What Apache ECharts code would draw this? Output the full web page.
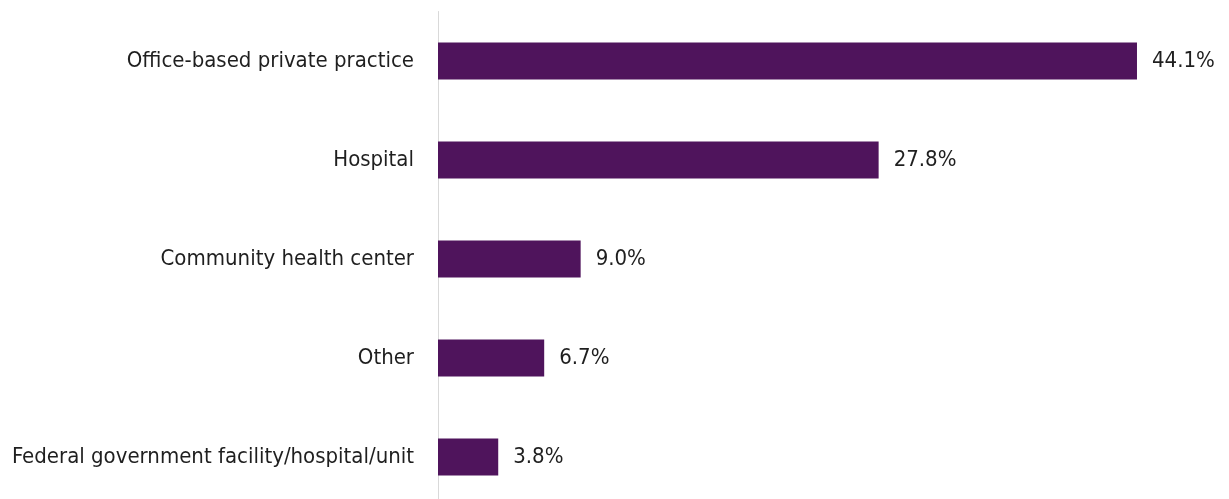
<!DOCTYPE html>
<html>
<head>
<meta charset="utf-8">
<script src="https://cdn.jsdelivr.net/npm/echarts@6/dist/echarts.min.js"></script>
<style>
  html, body { margin: 0; padding: 0; background: #fff; }
  #chart { width: 1229px; height: 499px; }
</style>
</head>
<body>
<div id="chart"></div>
<script>
// categories listed bottom to top (category axis on y starts at the bottom)
var categories = [
  'Federal government facility/hospital/unit',
  'Other',
  'Community health center',
  'Hospital',
  'Office-based private practice'
];
var shares = [3.8, 6.7, 9.0, 27.8, 44.1];

var chart = echarts.init(document.getElementById('chart'));

var option = {
  backgroundColor: '#ffffff',
  animation: false,
  grid: {
    left: 438,
    top: 11.5,
    width: 792.5,
    height: 495,
    containLabel: false,
    outerBoundsMode: 'none'
  },
  xAxis: {
    type: 'value',
    min: 0,
    max: 50,
    show: false
  },
  yAxis: {
    type: 'category',
    data: categories,
    axisLine: {
      show: true,
      lineStyle: { color: '#d9d9d9', width: 1 }
    },
    axisTick: { show: false },
    axisLabel: {
      margin: 24,
      color: '#1f1f1f',
      fontFamily: 'DejaVu Sans Condensed',
      fontSize: 22
    }
  },
  series: [{
    type: 'bar',
    data: shares,
    barWidth: 37,
    itemStyle: { color: '#4f145c' },
    label: {
      show: true,
      position: 'right',
      distance: 15,
      color: '#1f1f1f',
      fontFamily: 'DejaVu Sans Condensed',
      fontSize: 22,
      formatter: function (p) { return p.value.toFixed(1) + '%'; }
    }
  }]
};

chart.setOption(option);
</script>
</body>
</html>
